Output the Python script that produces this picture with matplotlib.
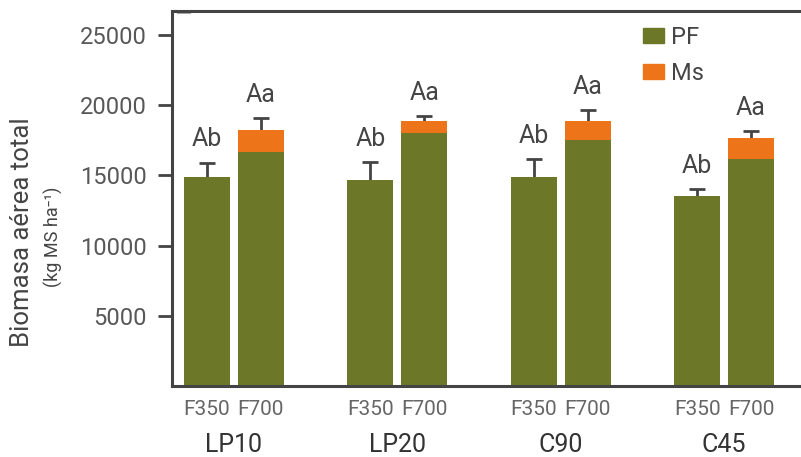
import matplotlib
matplotlib.use("Agg")
import matplotlib.pyplot as plt
import numpy as np
from matplotlib.patches import Patch

plt.rcParams['font.family'] = ['Roboto', 'DejaVu Sans']

# Data
groups = ["LP10", "LP20", "C90", "C45"]
treatments = ["F350", "F700"]
pf_f350 = [14900, 14700, 14850, 13550]
ms_f350 = [0, 0, 0, 0]
err_f350 = [1000, 1250, 1300, 450]
pf_f700 = [16650, 18000, 17500, 16150]
ms_f700 = [1600, 850, 1350, 1500]
err_f700 = [850, 350, 800, 500]
letters_f350 = ["Ab", "Ab", "Ab", "Ab"]
letters_f700 = ["Aa", "Aa", "Aa", "Aa"]

green = "#6c7828"
orange = "#ee741a"
dark = "#444444"

fig = plt.figure(figsize=(8.01, 4.57), dpi=100)
ax = fig.add_axes([172/801, 71/457, 629/801, 375/457])

x = np.arange(len(groups))
off = 0.165
w = 0.281

for xs, pf, ms, err, lab in [(x - off, pf_f350, ms_f350, err_f350, letters_f350),
                             (x + off, pf_f700, ms_f700, err_f700, letters_f700)]:
    pf = np.array(pf); ms = np.array(ms); err = np.array(err)
    total = pf + ms
    # symmetric bars; the lower half sits behind the stacked bar
    ax.errorbar(xs, total, yerr=err, fmt='none',
                ecolor=dark, elinewidth=2, capsize=5.7, capthick=2, zorder=1)
    ax.bar(xs, pf, width=w, color=green, zorder=2)
    ax.bar(xs, ms, width=w, bottom=pf, color=orange, zorder=2)
    for xi, t, e, l in zip(xs, total, err, lab):
        ax.text(xi, t + e + 800, l, ha='center', va='bottom', fontsize=18, color="#454545")

handles = [Patch(color=green, label="PF"), Patch(color=orange, label="Ms")]
ax.legend(handles=handles, loc='upper left', bbox_to_anchor=(0.733, 0.985), frameon=False,
          fontsize=17, handlelength=0.9, handleheight=0.6, handletextpad=0.3,
          labelspacing=0.55, labelcolor="#454545", borderaxespad=0)

ax.set_xlim(-0.379, 3.471)
ax.set_ylim(0, 26700)
ax.set_yticks([5000, 10000, 15000, 20000, 25000])
ax.tick_params(axis='y', length=10, width=2, color=dark, labelsize=17,
               labelcolor="#585858", pad=8)

xt = np.concatenate([x - off, x + off])
xl = ["F350"] * 4 + ["F700"] * 4
ax.set_xticks(xt)
ax.set_xticklabels(xl)
ax.tick_params(axis='x', length=0, labelsize=15, labelcolor="#666666", pad=10)

for xi, g in zip(x, groups):
    ax.text(xi, -0.157, g, transform=ax.get_xaxis_transform(), ha='center', va='center',
            fontsize=18, color="#333333")

ax.spines["right"].set_visible(False)
for s in ["left", "top", "bottom"]:
    ax.spines[s].set_color(dark)
    ax.spines[s].set_linewidth(2.2)

# small dash inside the top-left corner
ax.plot([0.01, 0.029], [0.996, 0.996], transform=ax.transAxes, color="#aaaaaa", lw=1.5,
        clip_on=False)

fig.text(22/801, 1 - 232/457, "Biomasa aérea total", rotation=90, ha='center', va='center',
         fontsize=18.5, color="#444444")
fig.text(53/801, 1 - 237/457, "(kg MS ha\u207b\u00b9)", rotation=90, ha='center', va='center',
         fontsize=13, color="#444444")

fig.savefig("out.png", dpi=100)
